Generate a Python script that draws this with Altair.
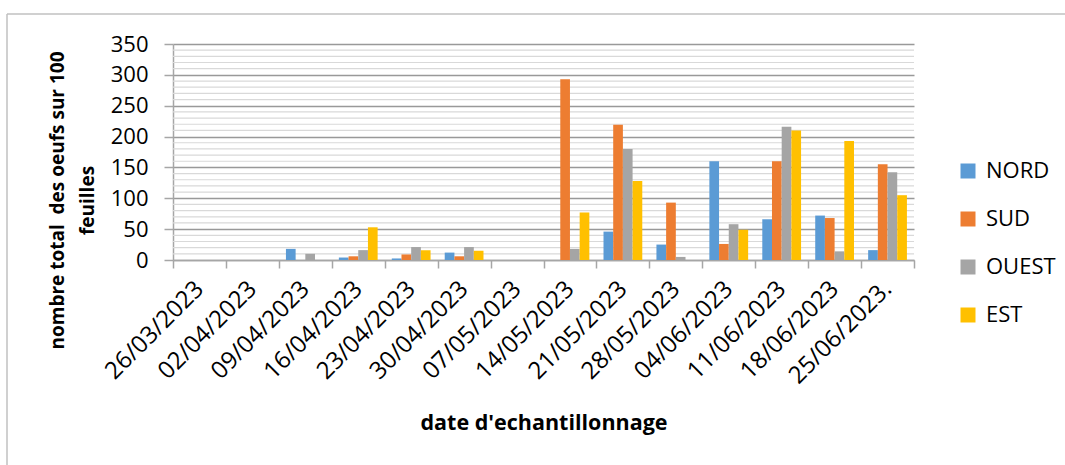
import altair as alt
import pandas as pd

# Sampling dates (category axis)
dates = [
    "26/03/2023", "02/04/2023", "09/04/2023", "16/04/2023", "23/04/2023",
    "30/04/2023", "07/05/2023", "14/05/2023", "21/05/2023", "28/05/2023",
    "04/06/2023", "11/06/2023", "18/06/2023", "25/06/2023.",
]

# Total eggs per 100 leaves, by orientation
nord = [0, 0, 18, 4, 2.5, 12, 0, 0, 46, 25, 160, 66, 72, 16]
sud = [0, 0, 0, 6, 9, 6, 0, 293, 219, 93, 26, 160, 68, 155]
ouest = [0, 0, 10, 16, 21, 21, 0, 18, 180, 5, 58, 216, 14, 142]
est = [0, 0, 0, 53, 16, 15, 0, 77, 128, 0, 49, 210, 193, 105]

zones = ["NORD", "SUD", "OUEST", "EST"]
colors = ["#5B9BD5", "#ED7D31", "#A5A5A5", "#FFC000"]

major_ticks = list(range(0, 351, 50))
minor_ticks = [v for v in range(10, 351, 10) if v % 50 != 0]

rows = []
for zone, series in zip(zones, [nord, sud, ouest, est]):
    for d, v in zip(dates, series):
        rows.append({"date": d, "zone": zone, "value": v})
df = pd.DataFrame(rows)

FONT = "Open Sans"
AXIS_GRAY = "#a6a6a6"
y_scale = alt.Scale(domain=[0, 350], nice=False)

# light minor gridlines every 10 units
minor_grid = (
    alt.Chart(pd.DataFrame({"v": minor_ticks}))
    .mark_rule(color="#d9d9d9", strokeWidth=1.2)
    .encode(y=alt.Y("v:Q", scale=y_scale, axis=None))
)

bars = (
    alt.Chart(df)
    .mark_bar()
    .encode(
        x=alt.X(
            "date:N",
            sort=dates,
            scale=alt.Scale(paddingInner=0, paddingOuter=0),
            axis=alt.Axis(
                title="date d'echantillonnage",
                titleFont=FONT,
                titleFontSize=21.5,
                titleFontWeight="bold",
                titleColor="#000000",
                titleY=163,
                titleBaseline="middle",
                labelFont=FONT,
                labelFontSize=24,
                labelColor="#000000",
                labelAngle=315,
                labelAlign="right",
                labelBaseline="middle",
                labelPadding=17,
                tickBand="extent",
                tickSize=8,
                tickColor=AXIS_GRAY,
                tickWidth=1.5,
                domainColor=AXIS_GRAY,
                domainWidth=1.5,
                grid=False,
                labelOverlap=False,
            ),
        ),
        xOffset=alt.XOffset(
            "zone:N", sort=zones, scale=alt.Scale(paddingOuter=0.73, paddingInner=0)
        ),
        y=alt.Y(
            "value:Q",
            scale=y_scale,
            axis=alt.Axis(
                values=major_ticks,
                title=["nombre total\u00a0 des oeufs sur 100", "feuilles"],
                titleFont=FONT,
                titleFontSize=19,
                titleFontWeight="bold",
                titleColor="#000000",
                titleAngle=270,
                titleAlign="center",
                titleBaseline="middle",
                titleLineHeight=30,
                titleX=-116,
                titleY=156,
                labelFont=FONT,
                labelFontSize=22,
                labelColor="#000000",
                labelPadding=16,
                tickSize=9,
                tickColor=AXIS_GRAY,
                tickWidth=1.5,
                domainColor=AXIS_GRAY,
                domainWidth=1.5,
                grid=True,
                gridColor="#999999",
                gridWidth=1.3,
            ),
        ),
        color=alt.Color(
            "zone:N",
            sort=zones,
            scale=alt.Scale(domain=zones, range=colors),
            legend=alt.Legend(
                title=None,
                orient="none",
                legendX=784,
                legendY=116,
                symbolType="square",
                symbolSize=225,
                symbolStrokeWidth=0,
                labelFont=FONT,
                labelFontSize=22,
                labelColor="#000000",
                labelOffset=7,
                rowPadding=26,
            ),
        ),
    )
)

# outer chart frame (left and top edges)
frame_left = (
    alt.Chart(alt.Data(values=[{}]))
    .mark_rule(color="#c0c0c0", strokeWidth=1.5)
    .encode(x=alt.value(-166), y=alt.value(-30), y2=alt.value(430))
)
frame_top = (
    alt.Chart(alt.Data(values=[{}]))
    .mark_rule(color="#c0c0c0", strokeWidth=1.5)
    .encode(x=alt.value(-166), x2=alt.value(900), y=alt.value(-30))
)

chart = (
    alt.layer(minor_grid, bars, frame_left, frame_top)
    .resolve_axis(y="independent")
    .properties(
        width=741,
        height=216,
        autosize=alt.AutoSizeParams(type="none"),
        padding={"left": 173, "top": 44, "right": 151, "bottom": 205},
        background="white",
    )
    .configure_view(stroke=None)
)

chart.save("out.html", embed_options={"renderer": "svg", "actions": False})
